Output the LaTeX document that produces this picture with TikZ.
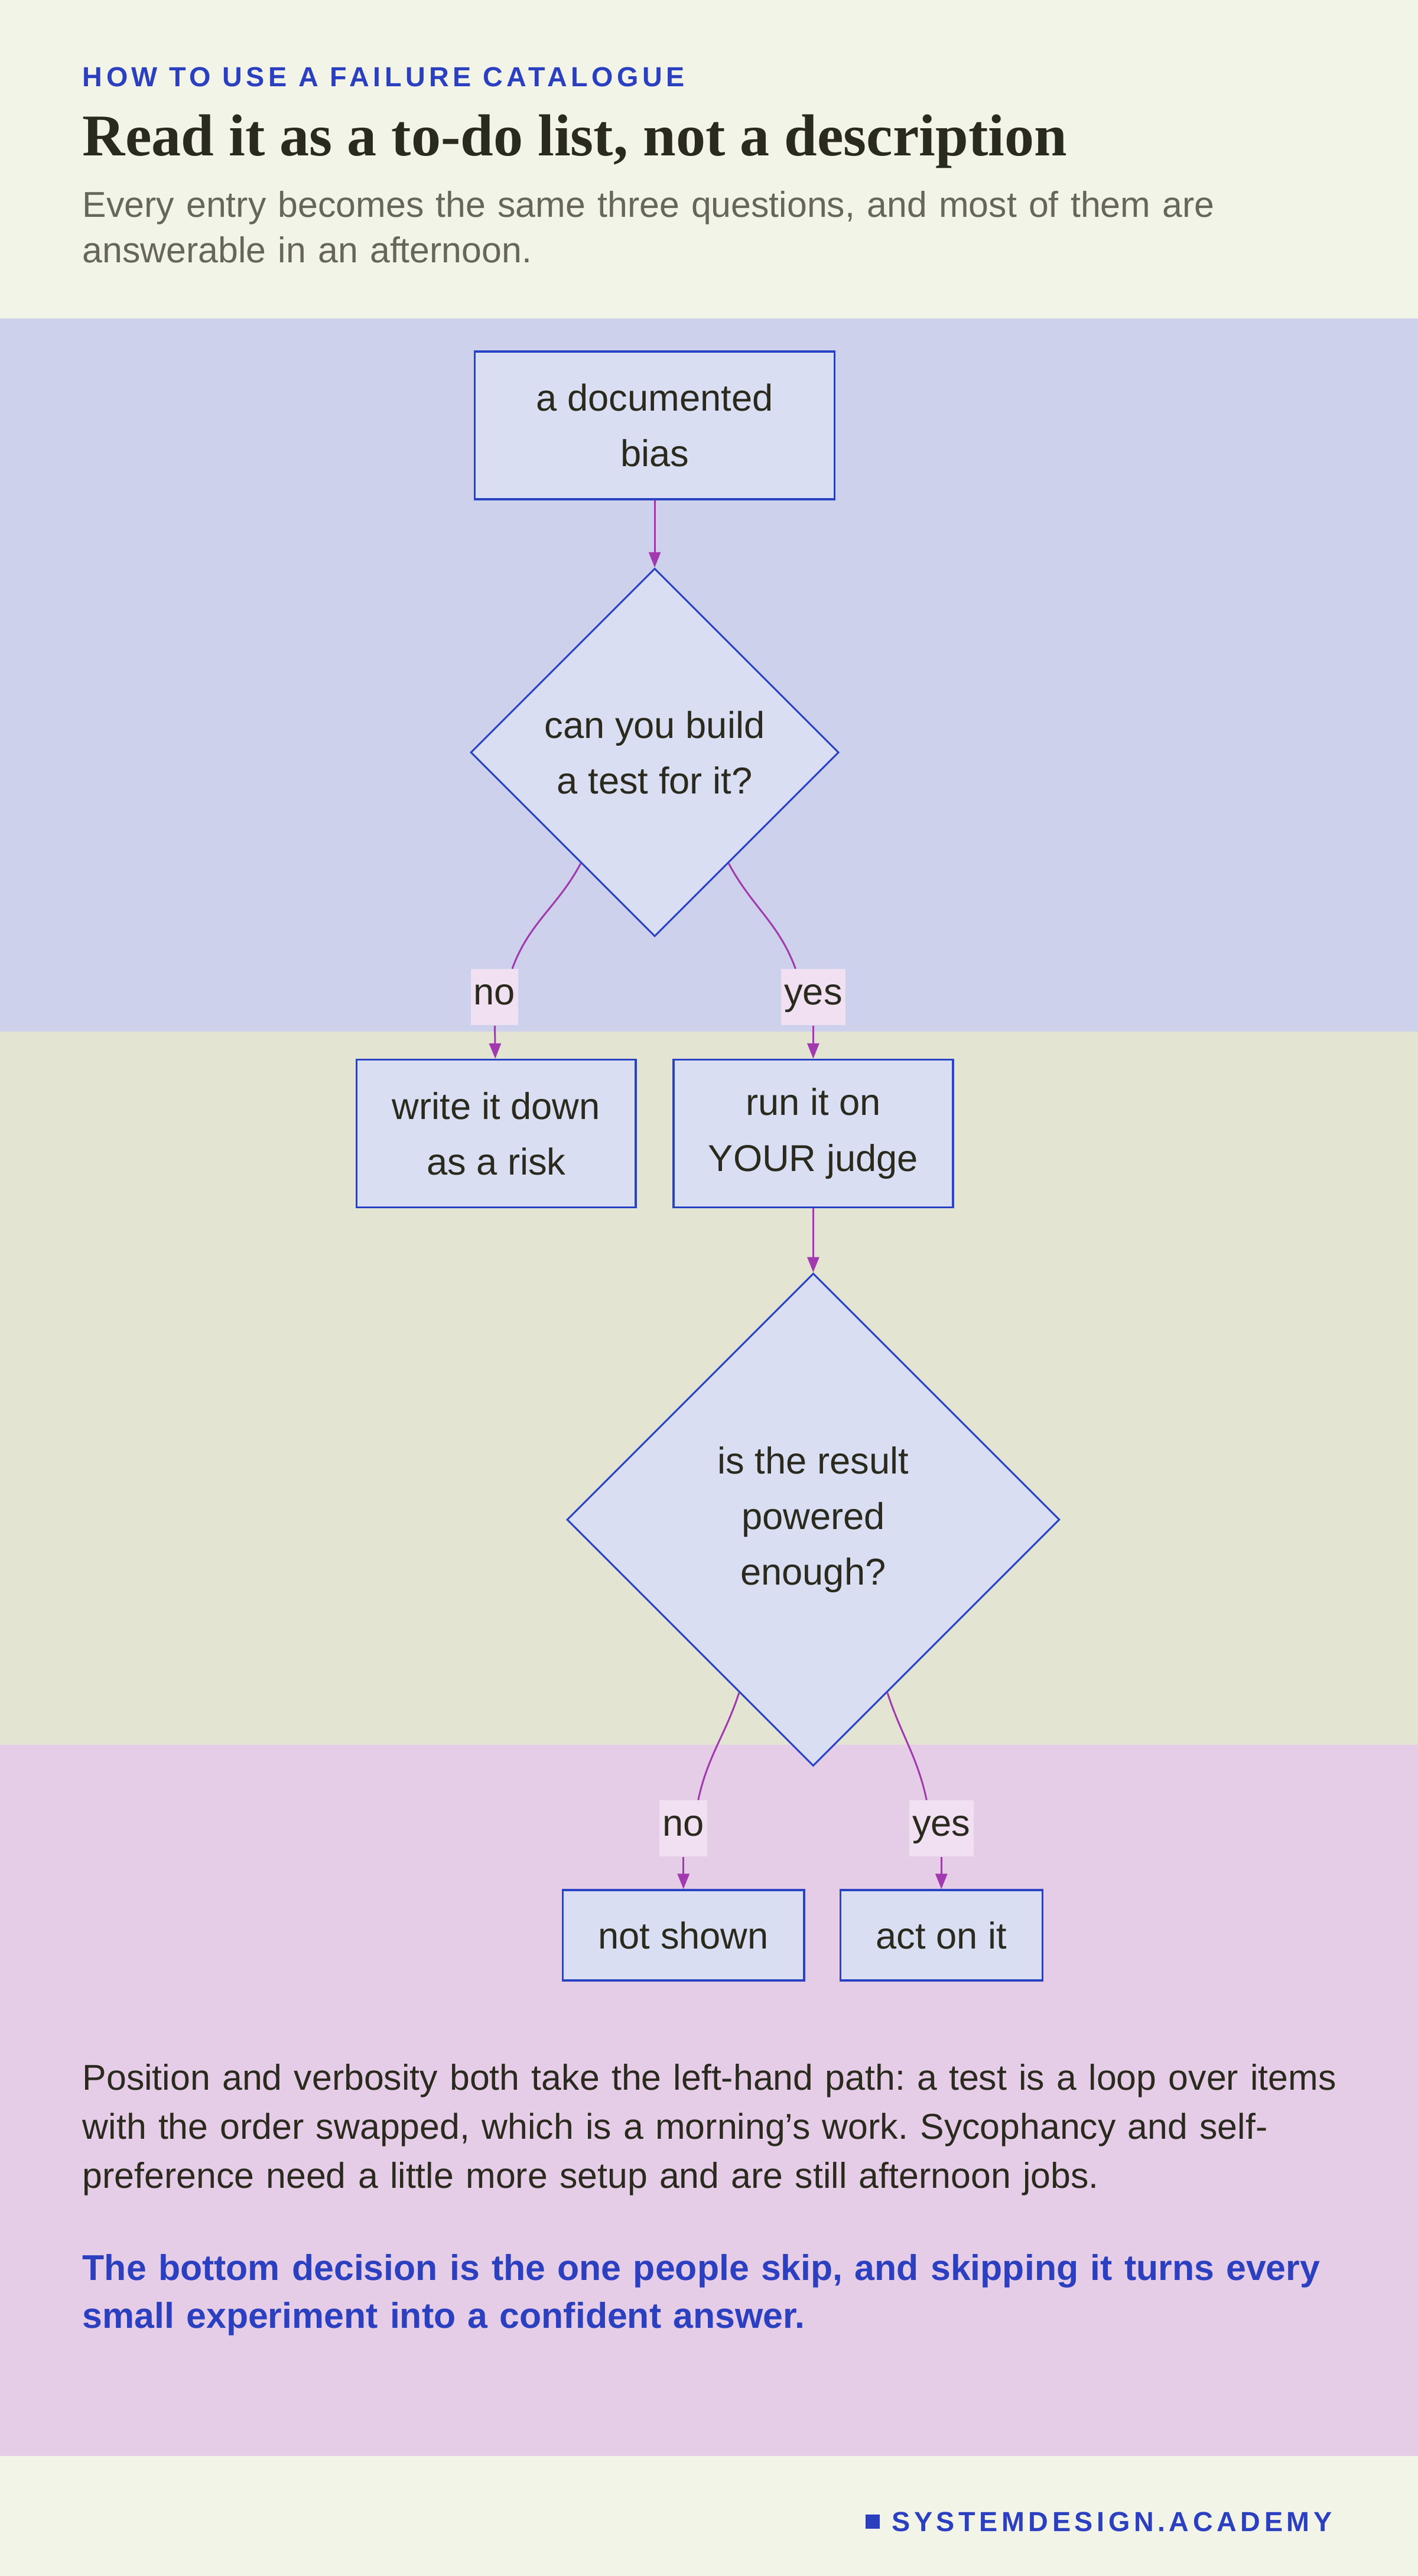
\documentclass[tikz,border=0pt]{standalone}
\usepackage{fontspec}
\setmainfont{Liberation Sans}
\newfontfamily\headfont{Liberation Serif}
\usetikzlibrary{shapes.geometric,arrows.meta,positioning,calc}
\definecolor{cream}{HTML}{F3F4E8}
\definecolor{bandblue}{HTML}{CDD1EB}
\definecolor{bandolive}{HTML}{E3E4D2}
\definecolor{bandpink}{HTML}{E6CDE7}
\definecolor{nodefill}{HTML}{D9DEF2}
\definecolor{nodeline}{HTML}{2A44C4}
\definecolor{edgecol}{HTML}{A23AAF}
\definecolor{lblfill}{HTML}{F0E0F2}
\definecolor{inkblue}{HTML}{2B40C0}
\definecolor{ink}{HTML}{2A2A1E}
\definecolor{greyink}{HTML}{66665A}
\frenchspacing
\tikzset{
  box/.style={draw=nodeline, fill=nodefill, line width=0.35mm, align=center,
              text=ink, font=\fontsize{18}{26.8}\selectfont, inner sep=0pt},
  decide/.style={box, diamond, line width=0.3mm},
  lbl/.style={fill=lblfill, text=ink, font=\fontsize{18}{20}\selectfont,
              inner sep=1.5pt, minimum height=9.5mm, text depth=0.5ex},
  wire/.style={draw=edgecol, line width=0.3mm},
  flow/.style={wire, -{Triangle[length=2.6mm,width=2mm]}},
  para/.style={anchor=north west, align=left, text width=215mm, inner sep=0pt},
}
\begin{document}
\begin{tikzpicture}[x=0.2781mm, y=-0.2781mm]
\useasboundingbox (0,0) rectangle (863,1568);
% bands
\fill[cream] (0,0) rectangle (863,1568);
\fill[bandblue] (0,194) rectangle (863,628);
\fill[bandolive] (0,628) rectangle (863,1062);
\fill[bandpink] (0,1062) rectangle (863,1495);

% header
\node[anchor=west, inner sep=0pt, text=inkblue, font=\fontsize{13.3}{15}\selectfont\bfseries\addfontfeatures{LetterSpace=14}] (kicker) at (50,47) {HOW TO USE A FAILURE CATALOGUE};
\node[anchor=west, inner sep=0pt, text=ink, font=\fontsize{28.5}{32}\selectfont\headfont\bfseries] (title) at (50,86) {Read it as a to-do list, not a description};
\node[para, text=greyink, text width=235mm, font=\fontsize{17.3}{22}\selectfont] (sub) at (50,116) {Every entry becomes the same three questions, and most of them are\\answerable in an afternoon.};

% nodes
\node[box, minimum width=60.9mm, minimum height=25mm] (bias) at (398.5,259) {a documented\\bias};
\node[decide, minimum width=62.3mm, minimum height=62.3mm] (test) at (398.5,458) {can you build\\a test for it?};
\node[box, minimum width=47.3mm, minimum height=25mm] (risk) at (302,690) {write it down\\as a risk};
\node[box, minimum width=47.3mm, minimum height=25mm] (run) at (495,690) {run it on\\YOUR judge};
\node[decide, minimum width=83.4mm, minimum height=83.4mm] (power) at (495,925) {is the result\\powered\\enough?};
\node[box, minimum width=40.9mm, minimum height=15.3mm] (noshow) at (416,1178) {not shown};
\node[box, minimum width=34.2mm, minimum height=15.3mm] (act) at (573,1178) {act on it};

% labels
\node[lbl] (no1) at (301,607) {no};
\node[lbl] (yes1) at (495,607) {yes};
\node[lbl] (no2) at (416,1113) {no};
\node[lbl] (yes2) at (573,1113) {yes};

% connectors
\draw[flow] (bias) -- (test);
\draw[flow] (run) -- (power);
\coordinate (t1l) at ($(test.west)!0.6!(test.south)$);
\coordinate (t1r) at ($(test.east)!0.6!(test.south)$);
\draw[wire] (t1l) to[out=-118, in=70] ([xshift=3mm]no1.north);
\draw[flow] (no1) -- (risk);
\draw[wire] (t1r) to[out=-62, in=110] ([xshift=-3mm]yes1.north);
\draw[flow] (yes1) -- (run);
\coordinate (p2l) at ($(power.west)!0.7!(power.south)$);
\coordinate (p2r) at ($(power.east)!0.7!(power.south)$);
\draw[wire] (p2l) to[out=-108, in=78] ([xshift=2.5mm]no2.north);
\draw[flow] (no2) -- (noshow);
\draw[wire] (p2r) to[out=-72, in=102] ([xshift=-2.5mm]yes2.north);
\draw[flow] (yes2) -- (act);

% notes
\node[para, text=ink, font=\fontsize{17.3}{23.6}\selectfont] (note) at (50,1256) {Position and verbosity both take the left-hand path: a test is a loop over items with the order swapped, which is a morning's work. Sycophancy and self-preference need a little more setup and are still afternoon jobs.};
\node[para, text=inkblue, font=\fontsize{17.3}{23}\selectfont\bfseries] (takeaway) at (50,1372) {The bottom decision is the one people skip, and skipping it turns every small experiment into a confident answer.};

% footer
\node[anchor=east, inner sep=0pt, text=inkblue, font=\fontsize{13.3}{15}\selectfont\bfseries\addfontfeatures{LetterSpace=14}] (brand) at (811,1535) {SYSTEMDESIGN.ACADEMY};
\fill[inkblue] ([xshift=-4.4mm]brand.west) ++(0,-1.2mm) rectangle ++(2.4mm,2.4mm);
\end{tikzpicture}
\end{document}
